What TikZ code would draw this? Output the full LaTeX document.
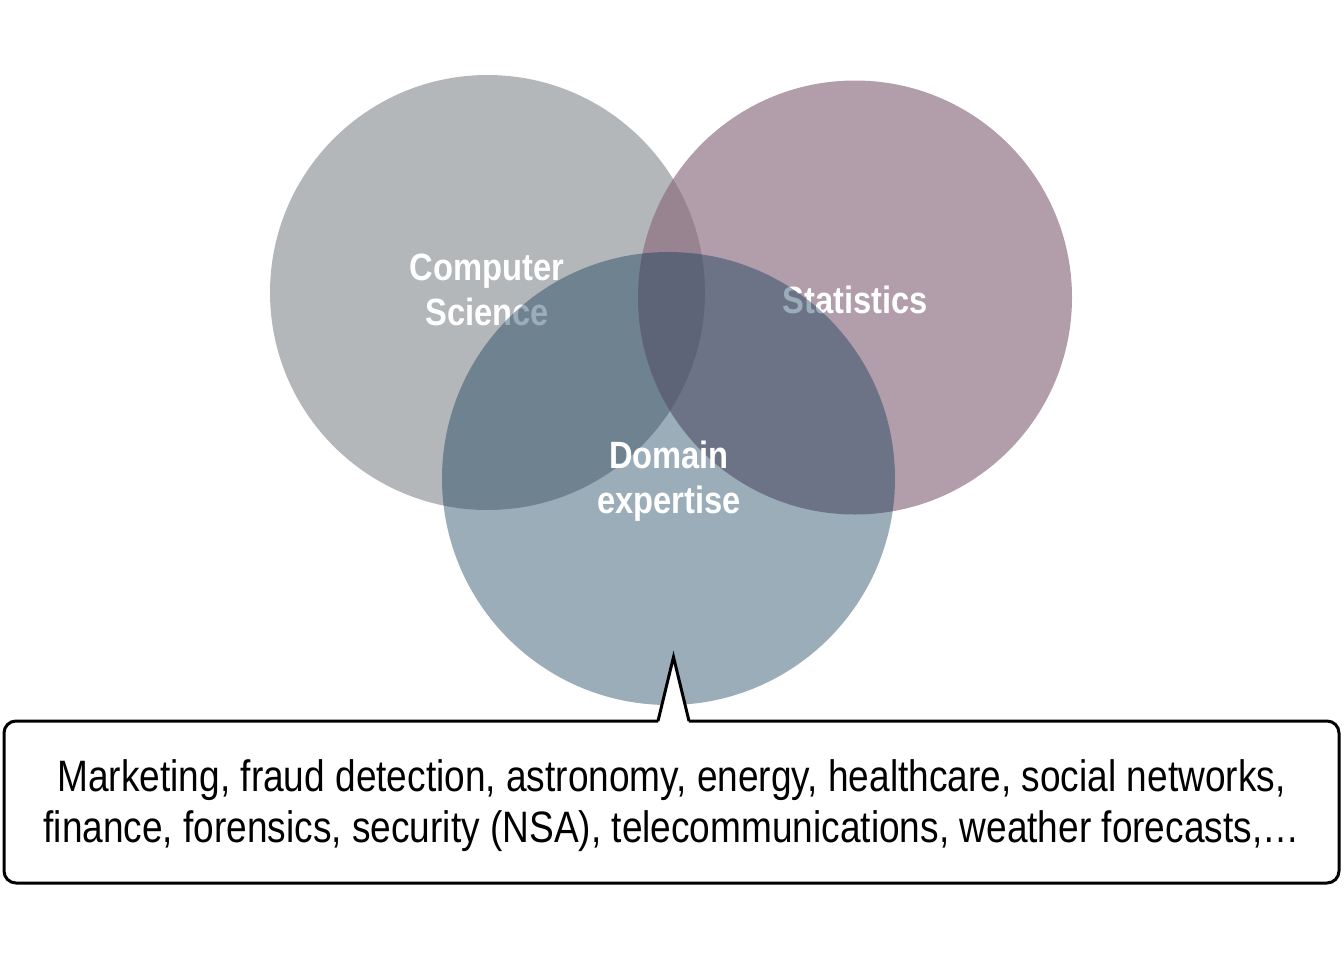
\documentclass[tikz,border=0pt]{standalone}
\usepackage{fontspec}
\newfontfamily\labelfont{Liberation Sans}[FakeStretch=0.86]
\newfontfamily\boxfont{Liberation Sans}[FakeStretch=0.842]
\definecolor{csgray}{RGB}{180,183,185}
\definecolor{statmauve}{RGB}{137,105,125}
\definecolor{domainblue}{RGB}{13,56,83}
\tikzset{
  venn/.style={circle, draw=none, inner sep=0pt, outer sep=0pt},
  venntext/.style={text=white, font=\labelfont\bfseries\fontsize{19}{22.5}\selectfont, align=center, inner sep=0pt},
  calloutbox/.style={draw=black, line width=1.5pt, rounded corners=6pt, fill=white,
    minimum width=667.5pt, minimum height=81pt, inner sep=0pt, align=center,
    font=\boxfont\fontsize{22}{25.5}\selectfont}
}
\begin{document}
\begin{tikzpicture}[x=0.5pt,y=-0.5pt]
\useasboundingbox (0,0) rectangle (1344,960);
% the three fields
\node[venn, fill=csgray, minimum size=217.5pt] (cs) at (487.5,292.5) {};
\node[venntext, anchor=base] (cslabel) at (487,325)
  {\fontsize{19}{22}\selectfont Computer\\Science};
\node[venn, fill=statmauve, fill opacity=0.65, minimum size=217pt] (stat) at (855,297.5) {};
\node[venntext, anchor=base] (statlabel) at (855,313) {Statistics};
\node[venn, fill=domainblue, fill opacity=0.41, minimum size=226.5pt] (dom) at (668.5,478.5) {};
\node[venntext, anchor=base] (domlabel) at (669,513)
  {\fontsize{19}{23}\selectfont Domain\\expertise};
% callout with application areas
\node[calloutbox, minimum height=81pt] (apps) at (671.5,802) {};
\node[font=\boxfont\fontsize{22}{25.5}\selectfont, align=center, inner sep=0pt] (appstext) at (671.5,806)
  {Marketing, fraud detection, astronomy, energy, healthcare, social networks,\\
   finance, forensics, security (NSA), telecommunications, weather forecasts,\ldots};
\coordinate (tip) at (673.5,657);
\coordinate (pl) at (658,721);
\coordinate (pr) at (689,721);
\fill[white] ([yshift=-1.2pt]pl) -- (tip) -- ([yshift=-1.2pt]pr) -- cycle;
\draw[line width=1.5pt, line join=miter] (pl) -- (tip) -- (pr);
\end{tikzpicture}
\end{document}
